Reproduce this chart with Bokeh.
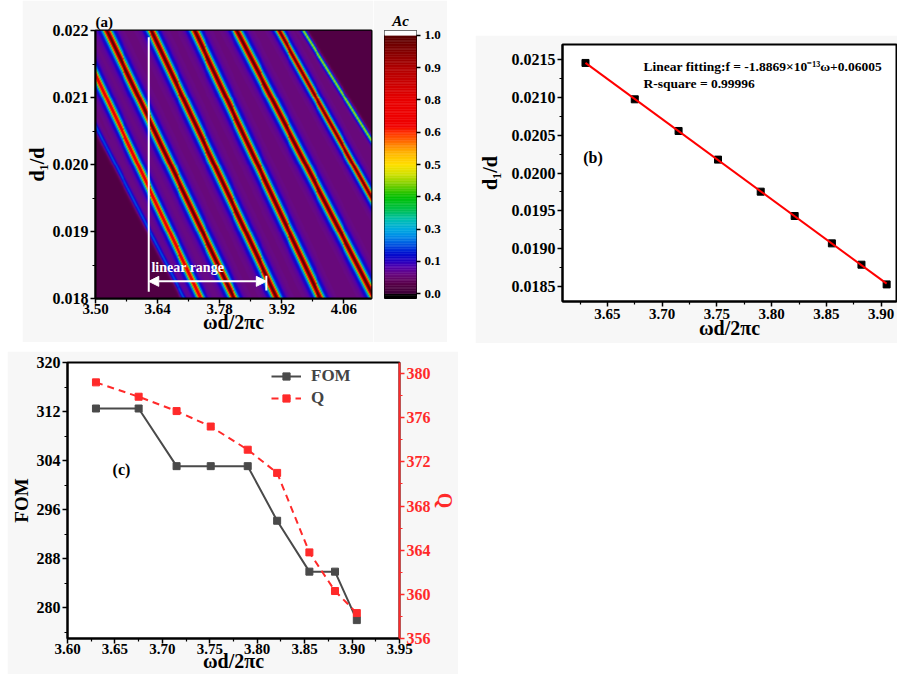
import numpy as np
from bokeh.plotting import figure
from bokeh.models import (LinearColorMapper, FixedTicker, PrintfTickFormatter,
                          Label, Arrow, NormalHead, Range1d, LinearAxis, Legend,
                          LegendItem, Spacer)
from bokeh.layouts import row, column
from bokeh.embed import file_html
from bokeh.resources import INLINE

FONT = "Liberation Serif"

# ---------------- data ----------------
# panel (a): absorption map
a_x_range = [3.50, 4.122]
a_y_range = [0.018, 0.022]
a_x_ticks = [3.50, 3.64, 3.78, 3.92, 4.06]
a_y_ticks = [0.018, 0.019, 0.020, 0.021, 0.022]
cb_levels = [0.0, 0.1, 0.3, 0.4, 0.5, 0.6, 0.8, 0.9, 1.0]
cb_labels = ["0.0", "0.1", "0.3", "0.4", "0.5", "0.6", "0.8", "0.9", "1.0"]
# resonance lines: x position at d1/d = 0.022 (top) and 0.018 (bottom)
res_x_top = [3.389, 3.4535, 3.5255, 3.626, 3.7235, 3.819, 3.914, 3.969]
res_x_bottom = [3.699, 3.737, 3.812, 3.909, 4.007, 4.129, 4.248, 4.343]
res_peak = [0.16, 0.75, 1.0, 1.0, 1.0, 1.0, 0.95, 0.45]
res_width = [0.0060, 0.0095, 0.0105, 0.0105, 0.0105, 0.0105, 0.0088, 0.0050]
ac_background = 0.055
ac_dark = 0.02
linear_range = [3.62, 3.885]

# panel (b) / (c)
omega = [3.630, 3.675, 3.715, 3.751, 3.790, 3.821, 3.855, 3.882, 3.905]
d1_ratio = [0.021456, 0.020975, 0.020556, 0.020177, 0.019753, 0.019431,
            0.019069, 0.018787, 0.018526]
fom = [312.5, 312.5, 303.1, 303.1, 303.1, 294.2, 285.9, 285.9, 278.0]
q_factor = [379.2, 377.9, 376.6, 375.2, 373.1, 371.0, 363.8, 360.3, 358.3]

b_x_ticks = [3.65, 3.70, 3.75, 3.80, 3.85, 3.90]
b_y_ticks = [0.0185, 0.0190, 0.0195, 0.0200, 0.0205, 0.0210, 0.0215]
c_x_ticks = [3.60, 3.65, 3.70, 3.75, 3.80, 3.85, 3.90, 3.95]
c_fom_ticks = [280, 288, 296, 304, 312, 320]
c_q_ticks = [356, 360, 364, 368, 372, 376, 380]


def mids(t):
    return [(t[i] + t[i + 1]) / 2 for i in range(len(t) - 1)]


def style_axis(ax, color="black", size="15px", mls=2, als=2, lsize="19px"):
    ax.axis_line_width = 2
    ax.axis_line_color = color
    ax.major_tick_line_color = color
    ax.major_tick_line_width = 1.5
    ax.minor_tick_line_color = color
    ax.minor_tick_line_width = 1.2
    ax.major_tick_out = 5
    ax.major_tick_in = 0
    ax.minor_tick_out = 3
    ax.minor_tick_in = 0
    ax.major_label_text_font = FONT
    ax.major_label_text_font_style = "bold"
    ax.major_label_text_font_size = size
    ax.major_label_text_color = color
    ax.major_label_standoff = mls
    ax.axis_label_text_font = FONT
    ax.axis_label_text_font_style = "bold"
    ax.axis_label_text_font_size = lsize
    ax.axis_label_text_color = color
    ax.axis_label_standoff = als


def lab(p, text, x, y, size="16px", style="bold", color="black", align="left",
        base="middle"):
    p.add_layout(Label(x=x, y=y, text=text, text_font=FONT, text_font_style=style,
                       text_font_size=size, text_color=color, text_align=align,
                       text_baseline=base))


GRAY = "#f7f7f7"

# ---------------- panel (a) ----------------
nx, ny = 562, 540
xs = np.linspace(a_x_range[0], a_x_range[1], nx)
ys = np.linspace(a_y_range[0], a_y_range[1], ny)
X, Y = np.meshgrid(xs, ys)
t = (Y - a_y_range[0]) / (a_y_range[1] - a_y_range[0])
centers = [xb + (xt - xb) * t for xt, xb in zip(res_x_top, res_x_bottom)]
ac = np.full(X.shape, ac_background)
ac[X < centers[0]] = ac_dark
ac[X > centers[-1]] = ac_dark
for c, pk, w in zip(centers, res_peak, res_width):
    ac = ac + pk / (1.0 + ((X - c) / w) ** 2) ** 2
ac = np.clip(ac, 0, 1)
pos = np.clip(np.interp(ac, cb_levels, np.arange(len(cb_levels))), 0, 7.99)

anchor_pos = [0.0, 0.3, 0.6, 0.85, 1.0, 1.25, 1.5, 1.8, 2.0, 2.3, 2.6, 3.0, 3.4,
              3.7, 4.0, 4.4, 4.7, 5.0, 5.2, 6.0, 7.0, 8.0]
anchor_col = ["#3c0038", "#580048", "#6a0a80", "#5000b0", "#2800c0", "#0010d0",
              "#0050e0", "#0090e8", "#00aae0", "#00c0b0", "#00c050", "#00c000",
              "#80d000", "#d0e000", "#ffe000", "#ffb000", "#ff7000", "#ff3000",
              "#f00000", "#e80000", "#b00000", "#580000"]
rgb = np.array([[int(c[i:i + 2], 16) for i in (1, 3, 5)] for c in anchor_col])
lo, hi, n_cb = -0.15, 8.15, 166
step = (hi - lo) / n_cb
cc = lo + (np.arange(n_cb) + 0.5) * step
palette = []
for v in cc:
    if v < 0:
        palette.append("#000000")
    elif v > 8:
        palette.append("#ffffff")
    else:
        r, g, b = (int(round(np.interp(v, anchor_pos, rgb[:, k]))) for k in range(3))
        palette.append("#%02x%02x%02x" % (r, g, b))
mapper = LinearColorMapper(palette=palette, low=lo, high=hi)

pa = figure(width=351, height=342, x_range=Range1d(*a_x_range), y_range=Range1d(*a_y_range),
            output_backend="svg", toolbar_location=None, title="(a)",
            min_border_left=68, min_border_right=2, min_border_top=30, min_border_bottom=42,
            border_fill_color=GRAY)
pa.title.text_font = FONT
pa.title.text_font_style = "bold"
pa.title.text_font_size = "15px"
pa.title.text_color = "black"
pa.title.align = "left"
pa.title.standoff = 2
pa.image(image=[pos], x=a_x_range[0], y=a_y_range[0], dw=a_x_range[1] - a_x_range[0],
         dh=a_y_range[1] - a_y_range[0], color_mapper=mapper)
pa.grid.visible = False
pa.outline_line_color = "black"
pa.outline_line_width = 2
pa.xaxis.ticker = FixedTicker(ticks=a_x_ticks, minor_ticks=mids(a_x_ticks))
pa.yaxis.ticker = FixedTicker(ticks=a_y_ticks, minor_ticks=mids(a_y_ticks))
pa.xaxis.formatter = PrintfTickFormatter(format="%.2f")
pa.yaxis.formatter = PrintfTickFormatter(format="%.3f")
pa.xaxis.axis_label = "ωd/2πc"
pa.yaxis.axis_label = "d₁/d"
style_axis(pa.xaxis[0], size="15px", mls=0, als=-6, lsize="20px")
style_axis(pa.yaxis[0], size="16px", mls=2, als=2, lsize="20px")

# linear range marks
y_arrow = 0.018256
pa.segment(x0=[linear_range[0]], y0=[0.0181], x1=[linear_range[0]], y1=[0.0219],
           line_color="white", line_width=2)
pa.segment(x0=[linear_range[1]], y0=[0.01812], x1=[linear_range[1]], y1=[0.01834],
           line_color="white", line_width=2)
pa.add_layout(Arrow(start=NormalHead(size=10, fill_color="white", line_color="white"),
                    end=NormalHead(size=10, fill_color="white", line_color="white"),
                    x_start=linear_range[0], y_start=y_arrow, x_end=linear_range[1], y_end=y_arrow,
                    line_color="white", line_width=2))
lab(pa, "linear range", linear_range[0] + 0.006, 0.01846, size="14px", color="white")

# colour bar (own small figure)
pcb = figure(width=74, height=342, x_range=Range1d(0, 1), y_range=Range1d(lo, hi),
             output_backend="svg", toolbar_location=None, title="Ac",
             x_axis_location=None, y_axis_location="right",
             min_border_left=11, min_border_right=31, min_border_top=28, min_border_bottom=44,
             border_fill_color=GRAY)
pcb.title.text_font = FONT
pcb.title.text_font_style = "bold italic"
pcb.title.text_font_size = "15px"
pcb.title.text_color = "black"
pcb.title.align = "center"
pcb.title.standoff = 4
pcb.grid.visible = False
pcb.quad(left=0, right=1, bottom=list(cc - step / 2), top=list(cc + step / 2),
         fill_color=palette, line_color=palette, line_width=0.5)
pcb.outline_line_color = "black"
pcb.outline_line_width = 1
pcb.yaxis.ticker = FixedTicker(ticks=list(range(len(cb_labels))))
pcb.yaxis.major_label_overrides = {i: s for i, s in enumerate(cb_labels)}
style_axis(pcb.yaxis[0], size="13px", mls=4)
pcb.yaxis.axis_line_color = None
pcb.yaxis.major_tick_out = 4
pcb.yaxis.minor_tick_line_color = None

# ---------------- panel (b) ----------------
b_x_range = [3.609, 3.914]
b_y_range = [0.0183, 0.0217]
pb = figure(width=422, height=308, x_range=Range1d(*b_x_range), y_range=Range1d(*b_y_range),
            output_backend="svg", toolbar_location=None,
            min_border_left=82, min_border_right=1, min_border_top=9, min_border_bottom=42,
            border_fill_color=GRAY)
pb.grid.visible = False
pb.outline_line_color = "black"
pb.outline_line_width = 2
pb.xaxis.ticker = FixedTicker(ticks=b_x_ticks, minor_ticks=[3.625] + mids(b_x_ticks))
pb.yaxis.ticker = FixedTicker(ticks=b_y_ticks, minor_ticks=mids(b_y_ticks))
pb.xaxis.formatter = PrintfTickFormatter(format="%.2f")
pb.yaxis.formatter = PrintfTickFormatter(format="%.4f")
pb.xaxis.axis_label = "ωd/2πc"
pb.yaxis.axis_label = "d₁/d"
style_axis(pb.xaxis[0], size="15px", mls=2, als=-5, lsize="20px")
style_axis(pb.yaxis[0], size="16px", mls=2, als=8, lsize="20px")
coef = np.polyfit(omega, d1_ratio, 1)
fit_x = [omega[0], omega[-1]]
fit_y = list(np.polyval(coef, fit_x))
pb.scatter(omega, d1_ratio, marker="square", size=7, color="black")
pb.line(fit_x, fit_y, line_color="#ff0000", line_width=2)
lab(pb, "Linear fitting:f = -1.8869×10⁻¹³ω+0.06005", 3.683, 0.021409, size="13.5px")
lab(pb, "R-square = 0.99996", 3.683, 0.021184, size="13.5px")
lab(pb, "(b)", 3.6279, 0.020205, size="16px")

# ---------------- panel (c) ----------------
c_x_range = [3.60, 3.95]
pc = figure(width=451, height=324, x_range=Range1d(*c_x_range), y_range=Range1d(275, 320),
            output_backend="svg", toolbar_location=None,
            min_border_left=56, min_border_right=53, min_border_top=11, min_border_bottom=37,
            border_fill_color=GRAY)
pc.extra_y_ranges = {"q": Range1d(356, 381)}
pc.grid.visible = False
pc.outline_line_color = "black"
pc.outline_line_width = 2
pc.xaxis.ticker = FixedTicker(ticks=c_x_ticks, minor_ticks=mids(c_x_ticks))
pc.yaxis.ticker = FixedTicker(ticks=c_fom_ticks, minor_ticks=[276] + mids(c_fom_ticks))
pc.xaxis.formatter = PrintfTickFormatter(format="%.2f")
pc.xaxis.axis_label = "ωd/2πc"
pc.yaxis.axis_label = "FOM"
style_axis(pc.xaxis[0], size="15px", mls=0, als=-7, lsize="20px")
style_axis(pc.yaxis[0], size="16px", mls=2, als=2, lsize="19px")
qax = LinearAxis(y_range_name="q", axis_label="Q",
                 ticker=FixedTicker(ticks=c_q_ticks, minor_ticks=mids(c_q_ticks)))
style_axis(qax, color="#ff2a2a", size="16px", mls=2, als=0, lsize="20px")
pc.add_layout(qax, "right")

r1 = pc.line(omega, fom, line_color="#4a4a4a", line_width=2)
r2 = pc.scatter(omega, fom, marker="square", size=7, color="#4a4a4a")
r3 = pc.line(omega, q_factor, y_range_name="q", line_color="#ff2a2a", line_width=2,
             line_dash="7 5")
r4 = pc.scatter(omega, q_factor, y_range_name="q", marker="square", size=7, color="#ff2a2a")
leg = Legend(items=[LegendItem(label="FOM", renderers=[r1, r2]),
                    LegendItem(label="Q", renderers=[r3, r4])],
             location=(204, 230), margin=0, padding=0, glyph_width=30, glyph_height=18,
             label_standoff=10, spacing=2, label_text_font=FONT,
             label_text_font_style="bold", label_text_font_size="17px",
             border_line_color=None, background_fill_color=None)
pc.add_layout(leg, "center")
lab(pc, "(c)", 3.6475, 302.5, size="16px")

layout = column(
    row(Spacer(width=22, height=342), pa, pcb, Spacer(width=28, height=342),
        column(Spacer(width=422, height=35), pb)),
    Spacer(width=897, height=8),
    row(Spacer(width=7, height=324), pc),
)

open("out.html", "w").write(file_html(layout, INLINE))
